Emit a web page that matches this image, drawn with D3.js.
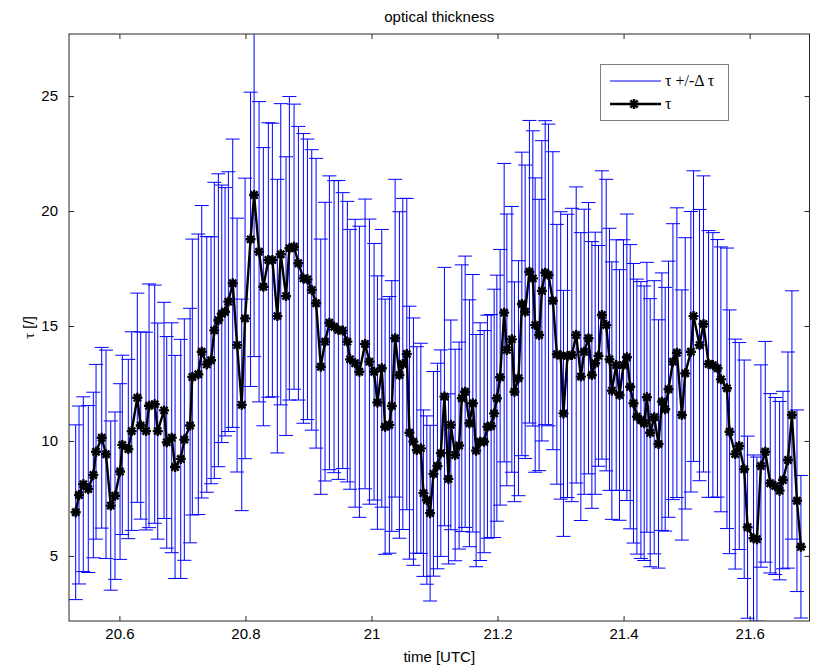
<!DOCTYPE html>
<html>
<head>
<meta charset="utf-8">
<script src="https://cdn.jsdelivr.net/npm/d3@7"></script>
<style>
  html, body { margin: 0; padding: 0; background: #fff; }
  svg { display: block; }
  text { font-family: "Liberation Sans", Arial, Helvetica, sans-serif; }
</style>
</head>
<body>
<svg id="chart" width="816" height="668"></svg>
<script>
// Measurement times (decimal hours, UTC)
const times = [
  20.5306, 20.5359, 20.5427, 20.5506, 20.5586, 20.5629, 20.5719, 20.5787, 20.5862, 20.5930,
  20.6010, 20.6046, 20.6141, 20.6195, 20.6284, 20.6338, 20.6422, 20.6470, 20.6560, 20.6608,
  20.6708, 20.6751, 20.6830, 20.6883, 20.6973, 20.7030, 20.7121, 20.7157, 20.7252, 20.7306,
  20.7386, 20.7454, 20.7506, 20.7570, 20.7624, 20.7676, 20.7729, 20.7798, 20.7867, 20.7941,
  20.7994, 20.8081, 20.8137, 20.8216, 20.8284, 20.8363, 20.8427, 20.8506, 20.8560, 20.8644,
  20.8697, 20.8771, 20.8840, 20.8919, 20.8983, 20.9052, 20.9121, 20.9195, 20.9263, 20.9332,
  20.9406, 20.9475, 20.9544, 20.9617, 20.9660, 20.9740, 20.9808, 20.9898, 20.9967, 21.0041,
  21.0094, 21.0163, 21.0216, 21.0284, 21.0322, 21.0375, 21.0443, 21.0497, 21.0560, 21.0602,
  21.0665, 21.0719, 21.0783, 21.0824, 21.0878, 21.0930, 21.0983, 21.1046, 21.1100, 21.1157,
  21.1221, 21.1259, 21.1327, 21.1390, 21.1433, 21.1486, 21.1554, 21.1608, 21.1660, 21.1724,
  21.1787, 21.1840, 21.1898, 21.1946, 21.1989, 21.2041, 21.2105, 21.2148, 21.2227, 21.2268,
  21.2332, 21.2386, 21.2438, 21.2506, 21.2560, 21.2597, 21.2660, 21.2703, 21.2756, 21.2808,
  21.2878, 21.2941, 21.3002, 21.3046, 21.3110, 21.3179, 21.3248, 21.3322, 21.3375, 21.3443,
  21.3497, 21.3549, 21.3602, 21.3656, 21.3724, 21.3776, 21.3814, 21.3883, 21.3935, 21.3998,
  21.4052, 21.4105, 21.4157, 21.4211, 21.4275, 21.4327, 21.4370, 21.4422, 21.4486, 21.4554,
  21.4608, 21.4660, 21.4713, 21.4783, 21.4846, 21.4925, 21.4978, 21.5068, 21.5110, 21.5205,
  21.5268, 21.5348, 21.5417, 21.5490, 21.5544, 21.5640, 21.5681, 21.5771, 21.5835, 21.5914,
  21.5967, 21.6062, 21.6116, 21.6179, 21.6248, 21.6327, 21.6406, 21.6475, 21.6529, 21.6608,
  21.6671, 21.6751, 21.6814
];

// Optical thickness tau
const tau = [
  6.90, 7.65, 8.12, 7.91, 8.52, 9.53, 10.14, 9.42, 7.19, 7.62,
  8.67, 9.83, 9.65, 10.43, 11.88, 10.67, 10.43, 11.53, 11.60, 10.43,
  11.33, 9.94, 10.14, 8.87, 9.22, 10.06, 10.67, 12.78, 12.90, 13.88,
  13.33, 13.51, 14.81, 15.25, 15.53, 15.62, 16.06, 16.86, 14.17, 11.57,
  15.33, 18.77, 20.70, 18.23, 16.71, 17.87, 17.87, 15.43, 18.12, 16.30,
  18.38, 18.45, 17.73, 17.07, 17.03, 16.57, 15.99, 13.23, 14.32, 15.14,
  14.97, 14.83, 14.80, 14.32, 13.55, 13.38, 13.01, 14.22, 13.45, 13.01,
  11.67, 13.16, 10.62, 10.70, 11.52, 14.47, 12.87, 13.35, 13.78, 10.36,
  9.97, 9.61, 9.68, 7.73, 7.43, 6.86, 8.57, 8.91, 9.47, 11.93,
  8.35, 10.70, 9.39, 9.80, 11.86, 12.14, 10.77, 11.64, 9.58, 9.97,
  9.97, 10.62, 10.65, 11.20, 11.86, 12.77, 15.58, 13.96, 14.42, 12.14,
  12.73, 15.96, 15.62, 17.36, 17.07, 15.04, 14.61, 16.53, 17.32, 17.22,
  16.10, 13.77, 13.72, 11.20, 13.70, 13.74, 14.61, 12.80, 13.88, 14.47,
  12.87, 13.38, 13.70, 15.48, 15.04, 13.55, 12.19, 13.30, 12.00, 13.30,
  13.64, 12.36, 11.64, 11.06, 10.91, 10.77, 11.90, 10.36, 11.03, 9.87,
  11.71, 11.38, 12.25, 13.45, 13.84, 11.13, 12.94, 13.88, 15.43, 14.17,
  15.09, 13.35, 13.30, 13.16, 12.68, 12.29, 10.40, 9.43, 9.78, 8.77,
  6.25, 5.77, 5.73, 8.91, 9.53, 8.16, 8.04, 7.84, 8.30, 9.17,
  11.13, 7.40, 5.40
];

// Uncertainty delta tau (symmetric)
const dtau = [
  3.80, 3.87, 3.80, 3.63, 3.60, 3.80, 3.93, 4.53, 3.68, 3.64,
  3.82, 3.90, 3.90, 4.32, 4.55, 4.07, 4.30, 5.30, 5.18, 4.70,
  4.70, 4.60, 5.00, 4.85, 5.20, 5.25, 5.10, 6.00, 6.10, 6.36,
  5.56, 5.37, 6.44, 6.37, 5.60, 5.40, 5.65, 6.27, 5.52, 4.60,
  6.10, 6.40, 7.03, 6.53, 6.05, 5.97, 5.95, 5.95, 6.55, 6.06,
  6.60, 6.20, 5.95, 6.30, 6.10, 6.10, 6.30, 5.55, 6.06, 6.39,
  6.35, 6.50, 6.00, 6.10, 5.65, 6.26, 6.33, 6.30, 6.20, 5.58,
  5.51, 6.04, 5.55, 5.58, 5.45, 6.91, 7.10, 7.20, 6.77, 5.50,
  5.38, 4.49, 4.57, 3.62, 3.66, 3.82, 4.45, 4.47, 4.49, 5.62,
  3.70, 4.56, 4.60, 4.50, 5.80, 5.90, 5.37, 5.60, 5.05, 5.17,
  4.83, 4.85, 4.85, 5.40, 5.35, 5.56, 6.49, 5.91, 5.78, 4.78,
  5.11, 6.60, 6.38, 6.58, 6.42, 6.40, 5.90, 6.53, 6.61, 6.56,
  6.48, 5.65, 6.25, 5.35, 6.16, 6.38, 6.44, 6.26, 6.20, 5.90,
  5.80, 5.70, 4.80, 6.27, 6.34, 5.70, 5.60, 5.45, 5.45, 5.45,
  6.23, 6.18, 6.08, 5.98, 6.02, 5.97, 5.87, 5.83, 5.94, 5.40,
  5.60, 5.30, 5.57, 6.00, 6.30, 5.44, 5.90, 6.10, 6.32, 5.90,
  6.44, 5.80, 5.76, 5.60, 5.76, 6.10, 5.30, 5.00, 4.50, 4.75,
  3.96, 3.62, 3.57, 4.40, 4.80, 3.90, 3.85, 3.88, 3.86, 4.70,
  5.40, 3.95, 3.10
];

// Axis ticks and texts
const xTicks = [20.6, 20.8, 21, 21.2, 21.4, 21.6];
const yTicks = [5, 10, 15, 20, 25];
const titleText = "optical thickness";
const xLabelText = "time [UTC]";
const xDomain = [20.52, 21.695];
const yDomain = [2.17, 27.7];

const points = times.map((t, i) => ({ t, v: tau[i], d: dtau[i] }));

const W = 816, H = 668;
const plot = { left: 69, top: 34, right: 809.5, bottom: 621 };

const svg = d3.select("#chart");
svg.append("rect").attr("width", W).attr("height", H).attr("fill", "#fff");

const x = d3.scaleLinear().domain(xDomain).range([plot.left, plot.right]);
const y = d3.scaleLinear().domain(yDomain).range([plot.bottom, plot.top]);

svg.append("defs").append("clipPath").attr("id", "plotClip")
  .append("rect")
  .attr("x", plot.left).attr("y", plot.top)
  .attr("width", plot.right - plot.left).attr("height", plot.bottom - plot.top);

const fmt = d => String(+d.toFixed(1));
const axisColor = "#262626";

// axes with inward ticks on all four sides
function styleAxis(g) {
  g.select(".domain").remove();
  g.selectAll(".tick line").attr("stroke", axisColor);
  g.selectAll(".tick text").attr("fill", "#000").style("font-size", "15px");
}
svg.append("g").attr("transform", `translate(0,${plot.bottom})`)
  .call(d3.axisBottom(x).tickValues(xTicks).tickFormat(fmt).tickSizeInner(-5).tickSizeOuter(0).tickPadding(7))
  .call(styleAxis);
svg.append("g").attr("transform", `translate(0,${plot.top})`)
  .call(d3.axisTop(x).tickValues(xTicks).tickFormat("").tickSizeInner(-5).tickSizeOuter(0))
  .call(styleAxis);
svg.append("g").attr("transform", `translate(${plot.left},0)`)
  .call(d3.axisLeft(y).tickValues(yTicks).tickFormat(fmt).tickSizeInner(-5).tickSizeOuter(0).tickPadding(11))
  .call(styleAxis);
svg.append("g").attr("transform", `translate(${plot.right},0)`)
  .call(d3.axisRight(y).tickValues(yTicks).tickFormat("").tickSizeInner(-5).tickSizeOuter(0))
  .call(styleAxis);

// error bars
const capHalf = 7;
const eb = svg.append("g").attr("clip-path", "url(#plotClip)")
  .attr("stroke", "#0000ff").attr("stroke-width", 1).attr("fill", "none");
const bars = eb.selectAll("g.bar").data(points).join("g").attr("class", "bar");
bars.append("line")
  .attr("x1", d => x(d.t)).attr("x2", d => x(d.t))
  .attr("y1", d => y(d.v - d.d)).attr("y2", d => y(d.v + d.d));
bars.append("line")
  .attr("x1", d => x(d.t) - capHalf).attr("x2", d => x(d.t) + capHalf)
  .attr("y1", d => y(d.v + d.d)).attr("y2", d => y(d.v + d.d));
bars.append("line")
  .attr("x1", d => x(d.t) - capHalf).attr("x2", d => x(d.t) + capHalf)
  .attr("y1", d => y(d.v - d.d)).attr("y2", d => y(d.v - d.d));

// tau line with asterisk markers
const starPath = "M-5,0H5M0,-5V5M-3.6,-3.6L3.6,3.6M-3.6,3.6L3.6,-3.6";
function drawMarker(sel) {
  sel.append("circle").attr("r", 2.6).attr("fill", "#000");
  sel.append("path").attr("d", starPath)
    .attr("stroke", "#000").attr("stroke-width", 2.4).attr("fill", "none");
}
const lineG = svg.append("g").attr("clip-path", "url(#plotClip)");
lineG.append("path").datum(points)
  .attr("fill", "none").attr("stroke", "#000").attr("stroke-width", 2.4)
  .attr("stroke-linejoin", "round")
  .attr("d", d3.line().x(d => x(d.t)).y(d => y(d.v)));
lineG.selectAll("g.mk").data(points).join("g").attr("class", "mk")
  .attr("transform", d => `translate(${x(d.t)},${y(d.v)})`)
  .call(drawMarker);

// plot box
svg.append("rect")
  .attr("x", plot.left).attr("y", plot.top)
  .attr("width", plot.right - plot.left).attr("height", plot.bottom - plot.top)
  .attr("fill", "none").attr("stroke", axisColor).attr("stroke-width", 1);

// title and axis labels
svg.append("text").attr("x", (plot.left + plot.right) / 2).attr("y", 22)
  .attr("text-anchor", "middle").style("font-size", "15px").text(titleText);
svg.append("text").attr("x", (plot.left + plot.right) / 2).attr("y", 662)
  .attr("text-anchor", "middle").style("font-size", "15px").text(xLabelText);
const serif = "'Liberation Serif', 'Times New Roman', serif";
const yl = svg.append("text")
  .attr("transform", `translate(34,${(plot.top + plot.bottom) / 2}) rotate(-90)`)
  .attr("text-anchor", "middle").style("font-size", "15px");
yl.append("tspan").style("font-family", serif).text("τ");
yl.append("tspan").text(" [/]");

// legend
const lg = svg.append("g");
lg.append("rect").attr("x", 600.5).attr("y", 64.5).attr("width", 128).attr("height", 56)
  .attr("fill", "#fff").attr("stroke", "#808080").attr("stroke-width", 1);
lg.append("line").attr("x1", 610).attr("x2", 661).attr("y1", 81).attr("y2", 81)
  .attr("stroke", "#0000ff").attr("stroke-width", 1);
lg.append("line").attr("x1", 610).attr("x2", 661).attr("y1", 104).attr("y2", 104)
  .attr("stroke", "#000").attr("stroke-width", 2.4);
lg.append("g").attr("transform", "translate(634,104)").call(drawMarker);
lg.append("text").attr("x", 665).attr("y", 86).style("font-size", "16px").style("font-family", serif)
  .text("τ +/-Δ τ");
lg.append("text").attr("x", 665).attr("y", 109).style("font-size", "16px").style("font-family", serif)
  .text("τ");
</script>
</body>
</html>
